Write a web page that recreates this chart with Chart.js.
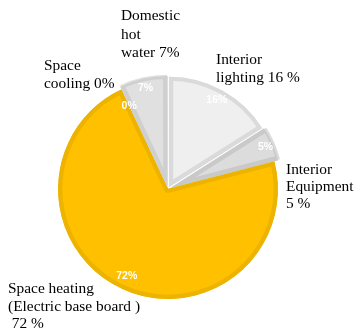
<!DOCTYPE html>
<html>
<head>
<meta charset="utf-8">
<script src="https://cdn.jsdelivr.net/npm/chart.js@4.4.0/dist/chart.umd.min.js"></script>
<style>
  html, body { margin:0; padding:0; background:#fff; }
  #wrap { width:354px; height:335px; }
</style>
</head>
<body>
<div id="wrap"><canvas id="pie" width="354" height="335"></canvas></div>
<script>
// data, clockwise from 12 o'clock
const categories = ["Interior lighting", "Interior Equipment", "Space heating", "Space cooling", "Domestic hot water"];
const shares = [16, 5, 72, 0, 7];
const pctLabels = ["16%", "5%", "72%", "0%", "7%"];

// outside captions (lines) and where they sit
const captions = [
  ["Interior", "lighting 16 %"],
  ["Interior", "Equipment", "5 %"],
  ["Space heating", "(Electric base board )", " 72 %"],
  ["Space", "cooling 0%"],
  ["Domestic", "hot", "water 7%"]
];
const captionPos = [[216, 64], [286, 174], [8, 293], [44, 70], [121, 20]];
const captionLineH = [18, 17, 17.5, 17.5, 18.5];

const fills = ["#efefef", "#dcdcdc", "#ffc000", "#ffc000", "#e0e0e0"];
const borders = ["#dadada", "#c9c9c9", "#ecb300", "#ecb300", "#cfcfcf"];
const offsets = [10, 15, 0, 0, 12];

const labelPlugin = {
  id: "labels",
  afterDatasetsDraw(chart){
    const ctx = chart.ctx;
    const meta = chart.getDatasetMeta(0);
    ctx.save();
    // percent inside slices
    ctx.fillStyle = "#fff";
    ctx.font = "bold 10.5px 'Liberation Sans', Arial, sans-serif";
    ctx.textAlign = "center";
    ctx.textBaseline = "middle";
    meta.data.forEach((arc, i)=>{
      const p = arc.getProps(["x","y","startAngle","endAngle","outerRadius"], true);
      const mid = (p.startAngle + p.endAngle) / 2;
      const r = p.outerRadius * (shares[i] > 50 ? 0.88 : 0.83) + offsets[i];
      ctx.fillText(pctLabels[i], p.x + Math.cos(mid)*r, p.y + Math.sin(mid)*r);
    });
    // captions outside
    ctx.fillStyle = "#000";
    ctx.font = "15.4px 'Liberation Serif', 'Times New Roman', serif";
    ctx.textAlign = "left";
    ctx.textBaseline = "alphabetic";
    captions.forEach((lines, i)=>{
      const [x, y] = captionPos[i];
      lines.forEach((t, k)=> ctx.fillText(t, x, y + k*captionLineH[i]));
    });
    ctx.restore();
  }
};

new Chart(document.getElementById("pie"), {
  type: "pie",
  data: {
    labels: categories,
    datasets: [{
      data: shares,
      backgroundColor: fills,
      borderColor: borders,
      borderWidth: 4,
      borderAlign: "inner",
      offset: offsets
    }]
  },
  options: {
    responsive: false,
    animation: false,
    radius: 110,
    layout: { padding: { left: 0, right: 18, top: 43, bottom: 0 } },
    plugins: {
      legend: { display: false },
      tooltip: { enabled: false }
    }
  },
  plugins: [labelPlugin]
});
</script>
</body>
</html>
